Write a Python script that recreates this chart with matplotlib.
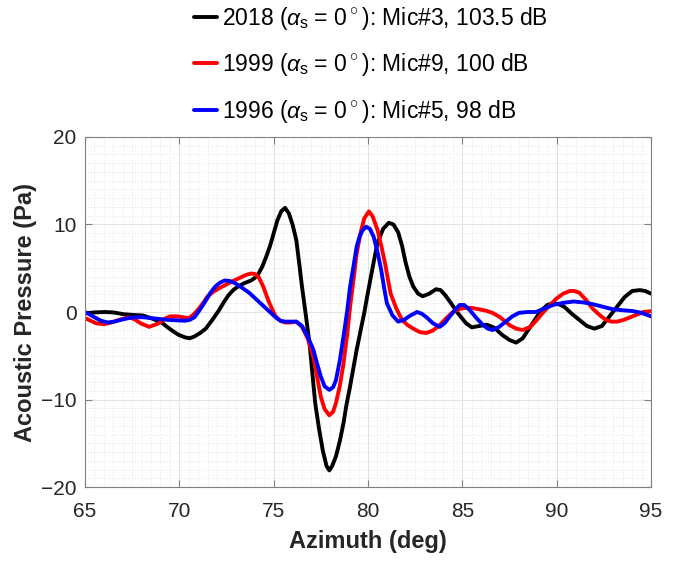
import matplotlib.pyplot as plt
from matplotlib.ticker import MultipleLocator

# azimuth (deg) / acoustic pressure (Pa)
az_2018 = [65, 65.5, 66.06, 66.5, 67.07, 67.6, 68.06, 68.5, 69.06, 69.35, 69.6, 69.95, 70.3, 70.55,
           70.8, 71.1, 71.4, 71.75, 72.1, 72.35, 72.6, 72.85, 73.1, 73.45, 73.8, 74.0, 74.2, 74.4,
           74.6, 74.8, 75.0, 75.2, 75.4, 75.6, 75.8, 76.0, 76.2, 76.35, 76.5, 76.7, 76.9,
           77.05, 77.2, 77.4, 77.6, 77.8, 77.95, 78.1, 78.3, 78.5, 78.7, 78.85, 79.05, 79.2, 79.4,
           79.6, 79.8, 79.95, 80.15, 80.3, 80.5, 80.8, 81.1, 81.35, 81.6, 81.8, 82.0, 82.2, 82.4,
           82.65, 82.9, 83.25, 83.6, 83.85, 84.1, 84.4, 84.7, 85.2, 85.5, 85.9, 86.3, 86.7, 87.1,
           87.5, 87.85, 88.2, 88.6, 88.9, 89.2, 89.5, 89.8, 90.1, 90.4, 90.8, 91.2, 91.6, 92.0,
           92.4, 92.8, 93.2, 93.6, 94.0, 94.4, 94.7, 95]
p_2018 = [-0.15, -0.05, 0.0, -0.05, -0.26, -0.35, -0.4, -0.7, -1.2, -1.7, -2.1, -2.6, -2.9, -3.0,
          -2.8, -2.4, -1.9, -0.9, 0.2, 1.1, 1.9, 2.5, 2.9, 3.3, 3.6, 3.9, 4.4, 5.2,
          6.3, 7.5, 9.0, 10.5, 11.5, 11.9, 11.3, 10.0, 8.2, 5.6, 2.9, -0.3, -3.6,
          -7.0, -10.4, -13.3, -15.8, -17.6, -18.1, -17.6, -16.5, -14.8, -12.7, -10.7, -8.5, -6.7, -4.3,
          -2.2, -0.1, 1.7, 4.0, 5.7, 7.9, 9.5, 10.2, 10.0, 9.1, 7.6, 5.6, 4.0, 2.9,
          2.1, 1.8, 2.1, 2.6, 2.5, 1.9, 1.0, 0.04, -1.3, -1.75, -1.6, -1.45, -1.8, -2.6,
          -3.2, -3.5, -3.0, -1.7, -0.7, 0.2, 0.8, 1.0, 0.9, 0.6, -0.2, -0.9, -1.6, -1.9,
          -1.6, -0.5, 0.6, 1.7, 2.4, 2.5, 2.4, 2.1]

az_1999 = [65, 65.3, 65.6, 66.0, 66.4, 66.8, 67.3, 67.6, 67.95, 68.4, 68.9, 69.2, 69.5, 69.9,
           70.2, 70.5, 70.75, 71.0, 71.25, 71.5, 71.8, 72.1, 72.45, 72.8, 73.3, 73.55, 73.8, 74.0,
           74.2, 74.45, 74.7, 74.9, 75.1, 75.35, 75.6, 75.9, 76.2, 76.5, 76.8, 77.1, 77.3, 77.5,
           77.7, 77.95, 78.15, 78.3, 78.5, 78.7, 78.9, 79.05, 79.25, 79.4, 79.6, 79.8, 80.05, 80.25,
           80.5, 80.7, 80.9, 81.05, 81.2, 81.5, 81.8, 82.1, 82.4, 82.75, 83.1, 83.45, 83.8, 84.15,
           84.5, 84.85, 85.2, 85.55, 85.9, 86.25, 86.6, 87.0, 87.5, 87.85, 88.2, 88.6, 88.95, 89.3,
           89.65, 90.0, 90.35, 90.7, 90.95, 91.2, 91.55, 91.9, 92.25, 92.6, 92.9, 93.2, 93.55, 93.9,
           94.25, 94.6, 95]
p_1999 = [-0.7, -1.0, -1.3, -1.4, -1.2, -0.9, -0.6, -0.8, -1.3, -1.7, -1.3, -0.8, -0.5, -0.5,
          -0.6, -0.7, -0.3, 0.3, 1.0, 1.8, 2.3, 2.7, 3.1, 3.5, 4.0, 4.25, 4.4, 4.35,
          4.0, 2.9, 1.4, 0.4, -0.5, -1.0, -1.2, -1.2, -1.1, -1.7, -3.0, -5.1, -7.4, -9.7,
          -11.1, -11.8, -11.4, -10.4, -8.5, -5.9, -2.5, 0.6, 4.0, 6.7, 9.0, 10.7, 11.5, 10.9,
          9.4, 7.6, 5.6, 3.8, 2.1, 0.4, -0.9, -1.5, -1.9, -2.3, -2.4, -2.1, -1.5, -0.7,
          0.0, 0.35, 0.5, 0.45, 0.3, 0.15, -0.1, -0.6, -1.5, -1.9, -2.06, -1.7, -0.9, 0.0,
          0.8, 1.56, 2.1, 2.4, 2.4, 2.2, 1.4, 0.4, -0.3, -0.9, -1.1, -1.1, -0.9, -0.6,
          -0.3, 0.0, 0.1]

az_1996 = [65, 65.25, 65.5, 65.85, 66.2, 66.55, 66.9, 67.3, 67.65, 68.1, 68.5, 68.95, 69.4, 69.85,
           70.3, 70.55, 70.8, 71.1, 71.4, 71.65, 71.9, 72.15, 72.4, 72.65, 72.95, 73.3, 73.7, 74.05,
           74.4, 74.75, 75.1, 75.35, 75.6, 75.9, 76.2, 76.5, 76.8, 77.1, 77.3, 77.5, 77.7, 77.95,
           78.15, 78.3, 78.5, 78.7, 78.9, 79.05, 79.25, 79.4, 79.55, 79.7, 79.9, 80.1, 80.3, 80.5,
           80.7, 80.85, 81.0, 81.3, 81.6, 81.9, 82.25, 82.6, 82.85, 83.1, 83.45, 83.8, 84.05, 84.3,
           84.6, 84.85, 85.1, 85.4, 85.75, 86.1, 86.35, 86.6, 86.95, 87.3, 87.65, 88.0, 88.45, 88.9,
           89.35, 89.8, 90.35, 90.9, 91.4, 91.9, 92.45, 93.0, 93.5, 94.05, 94.5, 95]
p_1996 = [0.0, -0.3, -0.6, -1.0, -1.2, -1.1, -0.9, -0.7, -0.6, -0.6, -0.7, -0.8, -0.9, -0.95,
          -1.0, -0.9, -0.6, 0.3, 1.3, 2.2, 2.9, 3.35, 3.6, 3.55, 3.3, 2.8, 2.2, 1.5,
          0.8, 0.1, -0.6, -1.0, -1.1, -1.1, -1.1, -1.6, -2.8, -4.3, -5.9, -7.4, -8.5, -8.9,
          -8.6, -7.8, -5.6, -2.8, 0.2, 2.9, 5.5, 7.5, 8.6, 9.3, 9.75, 9.5, 8.6, 6.9,
          4.8, 2.8, 1.0, -0.4, -1.1, -0.9, -0.4, 0.0, -0.2, -0.6, -1.3, -1.7, -1.3, -0.6,
          0.2, 0.8, 0.8, 0.2, -0.7, -1.5, -1.9, -2.06, -1.7, -1.1, -0.5, -0.1, 0.0, 0.0,
          0.4, 0.8, 1.05, 1.2, 1.1, 0.9, 0.6, 0.3, 0.2, 0.1, -0.1, -0.5]

labels = [r"2018 ($\alpha_{\rm s}\;$= 0$\,{}^{\circ}\,$): Mic#3, 103.5 dB",
          r"1999 ($\alpha_{\rm s}\;$= 0$\,{}^{\circ}\,$): Mic#9, 100 dB",
          r"1996 ($\alpha_{\rm s}\;$= 0$\,{}^{\circ}\,$): Mic#5, 98 dB"]

plt.rcParams["font.family"] = ["Liberation Sans", "DejaVu Sans"]
plt.rcParams["mathtext.fontset"] = "custom"
plt.rcParams["mathtext.rm"] = "Liberation Sans"
plt.rcParams["mathtext.it"] = "Liberation Sans:italic"

fig = plt.figure(figsize=(6.78, 5.61), dpi=100)
ax = fig.add_axes([0.1254, 0.1319, 0.8348, 0.6239])

style = dict(lw=2.8, solid_joinstyle="round", solid_capstyle="round")
ax.plot(az_2018, p_2018, color="black", label=labels[0], **style)
ax.plot(az_1999, p_1999, color="#ff0000", label=labels[1], **style)
ax.plot(az_1996, p_1996, color="#0000ff", label=labels[2], **style)

ax.set_xlim(65, 95)
ax.set_ylim(-20, 20)
ax.xaxis.set_major_locator(MultipleLocator(5))
ax.yaxis.set_major_locator(MultipleLocator(10))
ax.xaxis.set_minor_locator(MultipleLocator(0.5))
ax.yaxis.set_minor_locator(MultipleLocator(1))
ax.grid(which="major", color="#e3e3e3", lw=0.8)
ax.grid(which="minor", color="#d8d8d8", lw=0.6, ls=(0, (1, 2.5)))
ax.set_axisbelow(True)

ax.tick_params(which="both", direction="in", top=True, right=True, colors="#808080",
               labelcolor="#262626", labelsize=15)
ax.tick_params(which="minor", length=0)
ax.tick_params(which="major", length=5)
ax.tick_params(axis="x", which="major", pad=11)
ax.tick_params(axis="y", which="major", pad=6)
for s in ax.spines.values():
    s.set_color("#808080")

ax.set_xlabel("Azimuth (deg)", fontsize=17, fontweight="bold", color="#262626", labelpad=6)
ax.set_ylabel("Acoustic Pressure (Pa)", fontsize=17, fontweight="bold", color="#262626", labelpad=3)

fig.legend(loc="upper left", bbox_to_anchor=(194 / 678, 1 - 5 / 561), frameon=False,
           fontsize=16.5, handlelength=1.0, handletextpad=0.2, labelspacing=0.85,
           borderpad=0, borderaxespad=0)

fig.savefig("out.png", dpi=100)
